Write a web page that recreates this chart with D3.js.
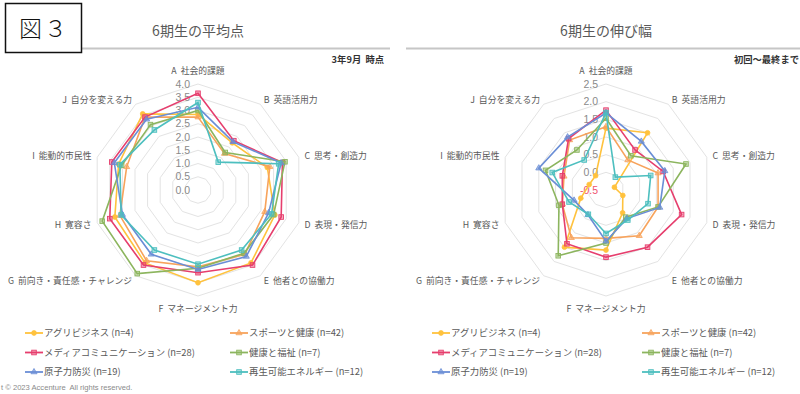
<!DOCTYPE html>
<html lang="ja">
<head>
<meta charset="utf-8">
<script src="https://cdn.jsdelivr.net/npm/d3@7"></script>
<style>
  html, body { margin: 0; padding: 0; background: #fff; }
  svg { display: block; font-family: "Noto Sans CJK JP", "Noto Sans", sans-serif; }
  .pre { white-space: pre; }
</style>
</head>
<body>
<svg id="chart" width="800" height="394"></svg>
<script>
// Ten competency axes shared by both radar charts
const categories = [
  "A  社会的課題", "B  英語活用力", "C  思考・創造力", "D  表現・発信力", "E  他者との協働力",
  "F  マネージメント力", "G  前向き・責任感・チャレンジ", "H  寛容さ", "I  能動的市民性", "J  自分を変える力"
];

// Course groups (legend order)
const courses = [
  "アグリビジネス (n=4)", "スポーツと健康 (n=42)", "メディアコミュニケーション (n=28)",
  "健康と福祉 (n=7)", "原子力防災 (n=19)", "再生可能エネルギー (n=12)"
];
const courseColors = ["#FFC23D", "#F7A35C", "#E63E6D", "#8CB55E", "#6A8ED6", "#4DBFBF"];
const courseMarkers = ["circle", "triangle", "square", "square", "triangle", "square"];

// Average score at 3年9月, per course, axes A..J
const avgAgri     = [2.85, 2.2, 2.75, 3.05, 3.4, 3.5, 3.4, 3.3, 3.15, 3.55];
const avgSports   = [2.75, 1.7, 2.85, 2.65, 3.0, 2.9, 3.3, 3.1, 2.83, 3.4];
const avgMedia    = [3.65, 2.3, 3.35, 3.3, 3.5, 3.12, 3.5, 3.5, 3.42, 3.4];
const avgWelfare  = [3.0, 1.75, 3.45, 3.0, 2.95, 2.95, 3.9, 3.8, 3.03, 3.05];
const avgNuclear  = [3.12, 2.25, 3.3, 2.8, 3.1, 3.0, 3.0, 3.0, 3.32, 3.3];
const avgRenew    = [3.3, 1.3, 3.2, 2.92, 2.8, 2.8, 2.8, 3.05, 3.1, 2.8];

// Growth from first to last survey, per course, axes A..J
const growAgri    = [1.25, 1.5, -0.25, 0.0, 0.3, 1.2, 1.5, 0.25, 0.0, 0.0];
const growSports  = [1.29, 0.55, 1.05, 1.05, 1.1, 0.87, 1.17, 0.8, 0.75, 1.25];
const growMedia   = [1.76, 0.9, 1.2, 1.75, 1.5, 1.4, 1.38, 0.8, 0.8, 1.3];
const growWelfare = [1.53, 0.7, 1.88, 1.05, 0.45, 1.0, 1.8, 0.9, 1.3, 0.9];
const growNuclear = [1.68, 1.2, 1.25, 1.1, 0.5, 0.95, 0.37, 0.45, 1.5, 1.35];
const growRenew   = [1.69, -0.05, 0.83, 0.75, 0.55, 0.73, 0.35, 0.6, 1.1, 0.55];

// Radial tick labels
const avgTicks = [0.0, 0.5, 1.0, 1.5, 2.0, 2.5, 3.0, 3.5, 4.0];
const growTicks = [-0.5, 0.0, 0.5, 1.0, 1.5, 2.0, 2.5];

const svg = d3.select("#chart");
const R = 106;
const N = categories.length;
const angle = i => i * 2 * Math.PI / N;

// Header: figure tag, titles and rules
svg.append("line").attr("x1", 5).attr("x2", 390).attr("y1", 48.5).attr("y2", 48.5)
  .attr("stroke", "#c6c6c6").attr("stroke-width", 2);
svg.append("line").attr("x1", 406).attr("x2", 800).attr("y1", 48.5).attr("y2", 48.5)
  .attr("stroke", "#c6c6c6").attr("stroke-width", 2);
svg.append("rect").attr("x", 5.5).attr("y", 3.5).attr("width", 76).attr("height", 49)
  .attr("fill", "#fff").attr("stroke", "#111").attr("stroke-width", 1.5);
svg.append("text").attr("x", 19).attr("y", 37).attr("font-size", 23).attr("fill", "#111")
  .attr("font-weight", 300).attr("letter-spacing", 2).text("図３");

function drawRadar(opts) {
  const { cx, cy, domain, ticks, series, title, note, noteX } = opts;
  const r = d3.scaleLinear().domain(domain).range([0, R]);
  const g = svg.append("g");

  g.append("text").attr("x", cx).attr("y", 36).attr("text-anchor", "middle")
    .attr("font-size", 14).attr("fill", "#595959").text(title);
  g.append("text").attr("class", "pre").attr("x", noteX).attr("y", 63).attr("text-anchor", "end")
    .attr("font-size", 9.3).attr("font-weight", 700).attr("fill", "#333").text(note);

  // concentric decagon grid
  const ring = d3.lineRadial().angle((d, i) => angle(i)).radius(d => r(d)).curve(d3.curveLinearClosed);
  g.selectAll(".ring").data(ticks.slice(1)).join("path")
    .attr("transform", `translate(${cx},${cy})`)
    .attr("d", t => ring(d3.range(N).map(() => t)))
    .attr("fill", "none").attr("stroke", "#e3e3e3").attr("stroke-width", 1);

  // tick labels along the A axis
  g.selectAll(".tick").data(ticks).join("text")
    .attr("x", cx - 8).attr("y", t => cy - r(t)).attr("dy", "0.35em")
    .attr("text-anchor", "end").attr("font-size", 10.5)
    .attr("font-family", "Liberation Sans, Arial, sans-serif")
    .attr("fill", t => t < 0 ? "#F0506E" : "#8a8a8a")
    .text(t => t.toFixed(1));

  // category labels
  const LR = 112;
  g.selectAll(".cat").data(categories).join("text")
    .attr("class", "pre")
    .attr("x", (d, i) => cx + LR * Math.sin(angle(i)))
    .attr("y", (d, i) => {
      const y = cy - LR * Math.cos(angle(i));
      if (i === 0) return y - 7;
      if (i === 5) return y + 7;
      return y;
    })
    .attr("dy", "0.36em")
    .attr("text-anchor", (d, i) => (i === 0 || i === 5) ? "middle" : (i < 5 ? "start" : "end"))
    .attr("font-size", 8.8).attr("fill", "#595959")
    .text(d => d);

  // series lines and markers
  const line = d3.lineRadial().angle((d, i) => angle(i)).radius(d => r(d)).curve(d3.curveLinearClosed);
  series.forEach((vals, s) => {
    const sg = g.append("g").attr("transform", `translate(${cx},${cy})`);
    sg.append("path").attr("d", line(vals)).attr("fill", "none")
      .attr("stroke", courseColors[s]).attr("stroke-width", 1.6);
    vals.forEach((v, i) => {
      const x = r(v) * Math.sin(angle(i));
      const y = -r(v) * Math.cos(angle(i));
      drawMarker(sg, courseMarkers[s], x, y, courseColors[s]);
    });
  });
}

function drawMarker(sel, type, x, y, color) {
  if (type === "circle") {
    sel.append("circle").attr("cx", x).attr("cy", y).attr("r", 2.4)
      .attr("fill", color).attr("stroke", color).attr("stroke-width", 0.8);
  } else if (type === "triangle") {
    sel.append("path").attr("d", d3.symbol(d3.symbolTriangle, 16)())
      .attr("transform", `translate(${x},${y})`)
      .attr("fill", color).attr("fill-opacity", 0.6).attr("stroke", color).attr("stroke-width", 0.8);
  } else {
    sel.append("rect").attr("x", x - 2.3).attr("y", y - 2.3).attr("width", 4.6).attr("height", 4.6)
      .attr("fill", color).attr("fill-opacity", 0.45).attr("stroke", color).attr("stroke-width", 0.9);
  }
}

function drawLegend(colX, textOffsetX) {
  const rows = [333, 352.5, 372];
  courses.forEach((name, s) => {
    const x0 = colX[s % 2];
    const y = rows[Math.floor(s / 2)];
    const lg = svg.append("g");
    lg.append("line").attr("x1", x0).attr("x2", x0 + 18).attr("y1", y).attr("y2", y)
      .attr("stroke", courseColors[s]).attr("stroke-width", 1.8);
    drawMarker(lg, courseMarkers[s], x0 + 9, y, courseColors[s]);
    lg.append("text").attr("x", x0 + textOffsetX).attr("y", y).attr("dy", "0.36em")
      .attr("font-size", 9.4).attr("fill", "#595959").text(name);
  });
}

drawRadar({
  cx: 198, cy: 190, domain: [0, 4], ticks: avgTicks,
  series: [avgAgri, avgSports, avgMedia, avgWelfare, avgNuclear, avgRenew],
  title: "6期生の平均点", note: "3年9月  時点", noteX: 384
});
drawRadar({
  cx: 606, cy: 190, domain: [-0.5, 2.5], ticks: growTicks,
  series: [growAgri, growSports, growMedia, growWelfare, growNuclear, growRenew],
  title: "6期生の伸び幅", note: "初回～最終まで", noteX: 799
});

drawLegend([25, 230], 19);
drawLegend([432, 642], 19);

svg.append("text").attr("class", "pre").attr("x", 1).attr("y", 390).attr("font-size", 7.6).attr("fill", "#8a8a8a")
  .attr("font-family", "Liberation Sans, Arial, sans-serif")
  .text("t © 2023 Accenture  All rights reserved.");
</script>
</body>
</html>
